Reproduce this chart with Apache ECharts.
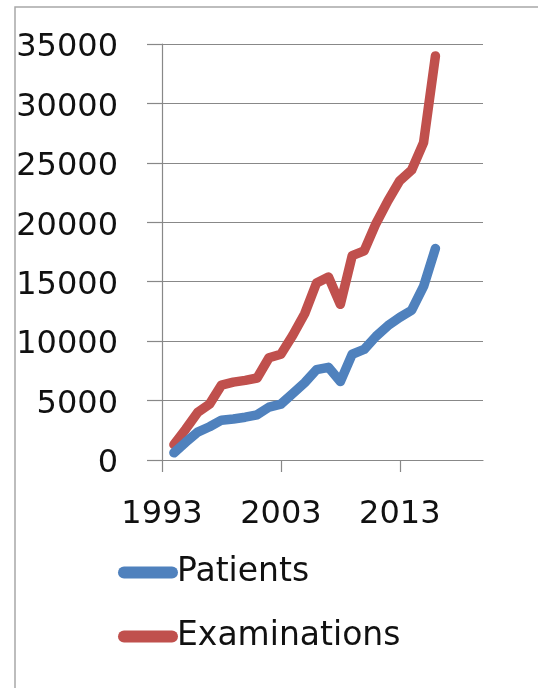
<!DOCTYPE html>
<html>
<head>
<meta charset="utf-8">
<script src="https://cdn.jsdelivr.net/npm/echarts@6/dist/echarts.min.js"></script>
<style>
  html, body { margin: 0; padding: 0; background: #fff; }
  #chart { width: 538px; height: 688px; }
</style>
</head>
<body>
<div id="chart"></div>
<script>
// Yearly counts, 1994-2016
const years = [1994, 1995, 1996, 1997, 1998, 1999, 2000, 2001, 2002, 2003, 2004, 2005,
               2006, 2007, 2008, 2009, 2010, 2011, 2012, 2013, 2014, 2015, 2016];
const patients = [600, 1500, 2350, 2800, 3350, 3450, 3600, 3800, 4450, 4700, 5600, 6500,
                  7600, 7800, 6600, 8900, 9300, 10400, 11300, 12000, 12600, 14600, 17800];
const examinations = [1300, 2600, 4000, 4700, 6300, 6550, 6700, 6900, 8600, 8900, 10500, 12300,
                      14900, 15400, 13100, 17200, 17600, 19900, 21800, 23500, 24400, 26700, 34000];
const xTicks = [1993, 2003, 2013];
const seriesNames = ['Patients', 'Examinations'];

const FONT = 'DejaVu Sans';
const GRID = '#888888';

const pairs = vals => years.map((y, i) => [y, vals[i]]);
const plain = v => String(v);

const chart = echarts.init(document.getElementById('chart'), null, { renderer: 'canvas' });

chart.setOption({
  animation: false,
  backgroundColor: '#ffffff',
  graphic: [{
    type: 'rect',
    shape: { x: 15, y: 7, width: 600, height: 700 },
    style: { fill: 'none', stroke: '#a8a8a8', lineWidth: 1.5 },
    silent: true,
    z: -10
  }],
  grid: { left: 162, right: 55, top: 44, bottom: 228 },
  xAxis: {
    type: 'value',
    min: 1993,
    max: 2020,
    axisLine: { show: true, lineStyle: { color: GRID, width: 1.2 } },
    axisTick: { show: true, length: 12, customValues: xTicks, lineStyle: { color: GRID, width: 1.2 } },
    axisLabel: {
      customValues: xTicks,
      formatter: plain,
      margin: 39,
      fontFamily: FONT, fontSize: 32, color: '#111'
    },
    splitLine: { show: false }
  },
  yAxis: {
    type: 'value',
    min: 0,
    max: 35000,
    interval: 5000,
    axisLine: { show: true, lineStyle: { color: GRID, width: 1.2 } },
    axisTick: { show: true, length: 15, lineStyle: { color: GRID, width: 1.2 } },
    axisLabel: {
      formatter: v => '{t|' + v + '}',
      margin: 44,
      rich: { t: { fontFamily: FONT, fontSize: 32, color: '#111', padding: [8, 0, 0, 0] } }
    },
    splitLine: { show: true, lineStyle: { color: GRID, width: 1.2 } }
  },
  legend: {
    orient: 'vertical',
    left: 113,
    top: 551,
    itemGap: 31,
    itemWidth: 60,
    itemHeight: 13,
    icon: 'path://M6 0H54A6 6 0 0 1 54 12H6A6 6 0 0 1 6 0Z',
    textStyle: { fontFamily: FONT, fontSize: 33, lineHeight: 31, color: '#111', padding: [0, 0, 0, -6] },
    data: seriesNames
  },
  series: [
    {
      name: seriesNames[0],
      type: 'line',
      data: pairs(patients),
      showSymbol: false,
      color: '#4F81BD',
      lineStyle: { width: 9.5, color: '#4F81BD', cap: 'round', join: 'round' },
      z: 3
    },
    {
      name: seriesNames[1],
      type: 'line',
      data: pairs(examinations),
      showSymbol: false,
      color: '#C0504D',
      lineStyle: { width: 9.5, color: '#C0504D', cap: 'round', join: 'round' },
      z: 2
    }
  ]
});
</script>
</body>
</html>
